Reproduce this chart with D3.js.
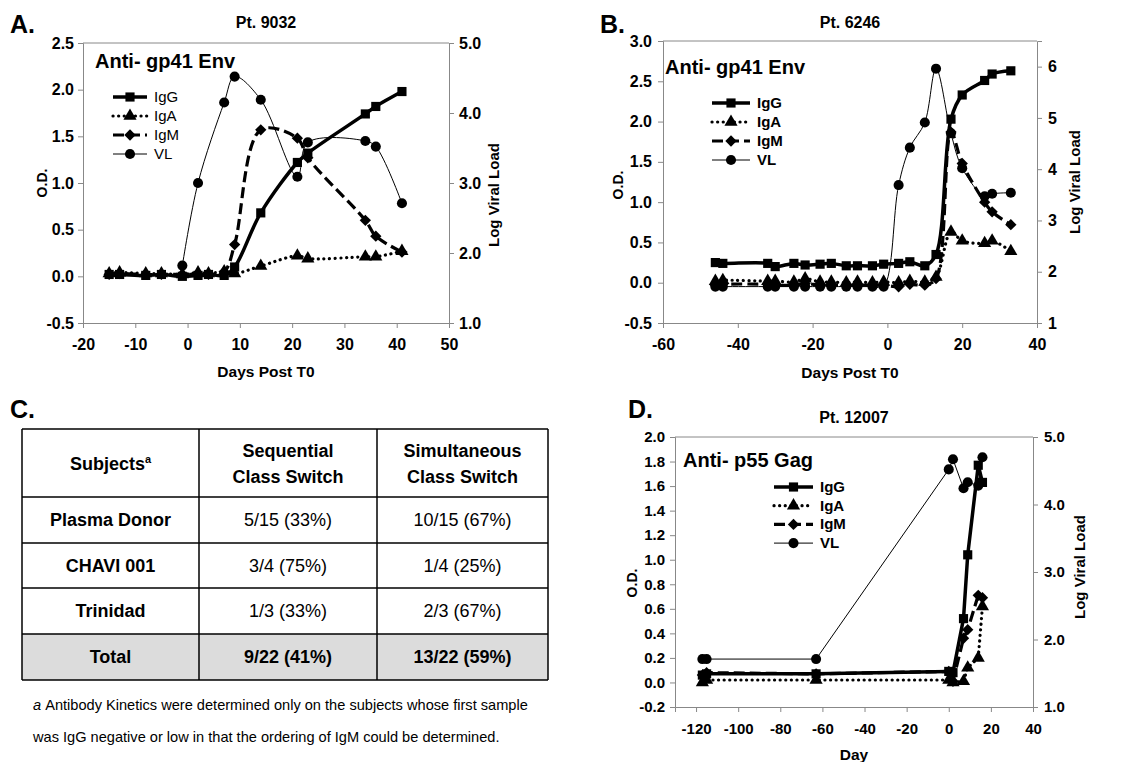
<!DOCTYPE html>
<html>
<head>
<meta charset="utf-8">
<script src="https://cdn.jsdelivr.net/npm/d3@7"></script>
<style>
  body { margin: 0; background: #fff; }
  svg { font-family: "Liberation Sans", Arial, sans-serif; }
</style>
</head>
<body>
<svg id="fig" width="1130" height="762"></svg>
<script>
// ---- data ----
// A. Pt. 9032, anti-gp41 Env
const aDays = [-15, -13, -8, -5, -1, 2, 4, 7, 9, 14, 21, 23, 34, 36, 41];
const aIgG  = [0.02, 0.02, 0.01, 0.02, 0.00, 0.01, 0.02, 0.01, 0.10, 0.68, 1.22, 1.32, 1.74, 1.82, 1.98];
const aIgA  = [0.03, 0.04, 0.03, 0.03, 0.02, 0.04, 0.03, 0.05, 0.03, 0.11, 0.22, 0.19, 0.21, 0.21, 0.27];
const aIgM  = [0.02, 0.03, 0.02, 0.02, 0.02, 0.02, 0.02, 0.05, 0.34, 1.57, 1.48, 1.27, 0.60, 0.43, 0.26];
const aVLDays = [-1, 2, 7, 9, 14, 21, 23, 34, 36, 41];
const aVL     = [1.82, 3.00, 4.15, 4.52, 4.19, 3.09, 3.58, 3.60, 3.52, 2.71];

// B. Pt. 6246, anti-gp41 Env
const bDays = [-46, -44, -32, -30, -25, -22, -18, -15, -11, -8, -4, -1, 3, 6, 10, 13, 17, 20, 26, 28, 33];
const bIgG  = [0.25, 0.24, 0.24, 0.20, 0.24, 0.22, 0.23, 0.24, 0.21, 0.21, 0.21, 0.23, 0.24, 0.26, 0.21, 0.35, 2.03, 2.33, 2.51, 2.59, 2.63];
const bIgA  = [0.02, 0.03, 0.02, 0.02, 0.01, 0.05, 0.01, 0.01, 0.00, 0.01, 0.00, 0.01, 0.00, 0.02, 0.01, 0.07, 0.63, 0.52, 0.49, 0.52, 0.39];
const bIgM  = [-0.03, -0.02, -0.02, -0.03, -0.03, -0.01, -0.03, -0.03, -0.03, -0.03, -0.03, -0.03, -0.05, -0.02, -0.03, 0.05, 1.87, 1.48, 1.00, 0.88, 0.72];
const bVLDays = [-46, -44, -32, -30, -25, -22, -18, -15, -11, -8, -4, -1, 3, 6, 10, 13, 17, 20, 26, 28, 33];
const bVL     = [1.71, 1.71, 1.71, 1.71, 1.71, 1.71, 1.71, 1.71, 1.71, 1.71, 1.71, 1.71, 3.69, 4.42, 4.91, 5.96, 4.70, 4.02, 3.47, 3.52, 3.54];

// D. Pt. 12007, anti-p55 Gag
const dDays = [-117, -115, -63, 0, 2, 7, 9, 14, 16];
const dIgG  = [0.06, 0.07, 0.07, 0.09, 0.08, 0.52, 1.04, 1.77, 1.63];
const dIgA  = [0.00, 0.02, 0.02, 0.02, 0.00, 0.01, 0.12, 0.20, 0.62];
const dIgM  = [0.06, 0.08, 0.07, 0.09, 0.01, 0.36, 0.43, 0.71, 0.69];
const dVLDays = [-117, -115, -63, 0, 2, 7, 9, 14, 16];
const dVL     = [1.71, 1.71, 1.71, 4.52, 4.67, 4.24, 4.33, 4.28, 4.70];

const seriesNames = ["IgG", "IgA", "IgM", "VL"];

// C. table
const tableHead = [["Subjects"], ["Sequential", "Class Switch"], ["Simultaneous", "Class Switch"]];
const tableSubjects = ["Plasma Donor", "CHAVI 001", "Trinidad", "Total"];
const tableSequential = ["5/15 (33%)", "3/4 (75%)", "1/3 (33%)", "9/22 (41%)"];
const tableSimultaneous = ["10/15 (67%)", "1/4 (25%)", "2/3 (67%)", "13/22 (59%)"];
const footnote = [
  "Antibody Kinetics were determined only on the subjects whose first sample",
  "was IgG negative or low in that the ordering of IgM could be determined."
];

// ---- drawing ----
const svg = d3.select("#fig");

const style = {
  IgG: { w: 3.5, dash: null, cap: "butt" },
  IgA: { w: 3.2, dash: "0.1 5.5", cap: "round" },
  IgM: { w: 3.2, dash: "11 5", cap: "butt" },
  VL:  { w: 1, dash: null, cap: "butt" }
};

function marker(name) {
  if (name === "IgG") return { d: d3.symbol(d3.symbolSquare, 84)(), rot: 0 };
  if (name === "IgA") return { d: d3.symbol(d3.symbolTriangle, 75)(), rot: 0 };
  if (name === "IgM") return { d: d3.symbol(d3.symbolSquare, 64)(), rot: 45 };
  return { d: d3.symbol(d3.symbolCircle, 80)(), rot: 0 };
}

// hyphen minus like the original, not the typographic one
const fmt = spec => v => d3.format(spec)(v).replace("\u2212", "-");

function drawPanel(p) {
  const g = svg.append("g");
  const x = d3.scaleLinear().domain(p.xDomain).range([p.left, p.right]);
  const y = d3.scaleLinear().domain(p.yDomain).range([p.bottom, p.top]);
  const yr = d3.scaleLinear().domain(p.rDomain).range([p.bottom, p.top]);

  g.append("line")
    .attr("x1", p.left).attr("x2", p.right)
    .attr("y1", p.top).attr("y2", p.top)
    .attr("stroke", "#888").attr("stroke-width", 1);

  const xAxis = g.append("g")
    .attr("transform", `translate(0,${p.bottom})`)
    .call(d3.axisBottom(x).tickValues(p.xTicks).tickSize(5).tickPadding(11).tickFormat(fmt("d")));
  const yAxis = g.append("g")
    .attr("transform", `translate(${p.left},0)`)
    .call(d3.axisLeft(y).tickValues(p.yTicks).tickSize(5).tickPadding(p.padL).tickFormat(fmt(".1f")));
  const rAxis = g.append("g")
    .attr("transform", `translate(${p.right},0)`)
    .call(d3.axisRight(yr).tickValues(p.rTicks).tickSize(5).tickPadding(p.padR).tickFormat(fmt(p.rFmt)));

  [xAxis, yAxis, rAxis].forEach(a => {
    a.select(".domain").attr("stroke", "#888");
    a.selectAll(".tick line").attr("stroke", "#888");
    a.selectAll(".tick text")
      .attr("fill", "#000")
      .style("font-size", p.tickSize + "px")
      .style("font-weight", "bold")
      .style("font-family", "'Liberation Sans', Arial, sans-serif");
  });

  const curve = p.smooth ? d3.curveCatmullRom.alpha(0.5) : d3.curveLinear;
  const series = [
    { name: "VL",  days: p.vlDays, vals: p.vl, sc: yr },
    { name: "IgG", days: p.days, vals: p.igg, sc: y },
    { name: "IgA", days: p.days, vals: p.iga, sc: y },
    { name: "IgM", days: p.days, vals: p.igm, sc: y }
  ];

  series.forEach(s => {
    const pts = s.days.map((d, i) => [d, s.vals[i]]);
    const st = style[s.name];
    g.append("path")
      .datum(pts)
      .attr("fill", "none")
      .attr("stroke", "#000")
      .attr("stroke-width", st.w)
      .attr("stroke-linecap", st.cap)
      .attr("stroke-dasharray", st.dash)
      .attr("d", d3.line().x(d => x(d[0])).y(d => s.sc(d[1])).curve(curve));
    const m = marker(s.name);
    g.selectAll(null)
      .data(pts)
      .enter()
      .append("path")
      .attr("d", m.d)
      .attr("fill", "#000")
      .attr("transform", d => `translate(${x(d[0])},${s.sc(d[1])}) rotate(${m.rot})`);
  });

  // legend
  seriesNames.forEach((name, i) => {
    const ly = p.legY + i * p.legStep;
    const st = style[name];
    g.append("line")
      .attr("x1", p.legX).attr("x2", p.legX + p.legW)
      .attr("y1", ly).attr("y2", ly)
      .attr("stroke", "#000")
      .attr("stroke-width", st.w)
      .attr("stroke-linecap", st.cap)
      .attr("stroke-dasharray", st.dash);
    const m = marker(name);
    g.append("path")
      .attr("d", m.d)
      .attr("transform", `translate(${p.legX + p.legW / 2},${ly}) rotate(${m.rot})`);
    g.append("text")
      .attr("x", p.legX + p.legW + 7).attr("y", ly + 5)
      .style("font-size", "15px")
      .style("font-weight", p.legBold ? "bold" : "normal")
      .text(name);
  });

  // texts
  g.append("text").attr("x", p.letterX).attr("y", p.letterY)
    .style("font-size", "25px").style("font-weight", "bold").text(p.letter);
  g.append("text").attr("x", (p.left + p.right) / 2).attr("y", p.titleY)
    .attr("text-anchor", "middle")
    .style("font-size", "16px").style("font-weight", "bold").text(p.title);
  g.append("text").attr("x", p.innerX).attr("y", p.innerY)
    .style("font-size", "20px").style("font-weight", "bold").text(p.inner);
  g.append("text").attr("x", (p.left + p.right) / 2).attr("y", p.xLabelY)
    .attr("text-anchor", "middle")
    .style("font-size", "15.5px").style("font-weight", "bold").text(p.xLabel);
  g.append("text")
    .attr("transform", `translate(${p.odX},${p.odY}) rotate(-90)`)
    .attr("text-anchor", "middle")
    .style("font-size", "14px").style("font-weight", "bold").text("O.D.");
  g.append("text")
    .attr("transform", `translate(${p.lvlX},${p.lvlY}) rotate(-90)`)
    .attr("text-anchor", "middle")
    .style("font-size", "15px").style("font-weight", "bold").text("Log Viral Load");
}

drawPanel({
  left: 83, right: 449, top: 43, bottom: 323,
  xDomain: [-20, 50], xTicks: d3.range(-20, 51, 10),
  yDomain: [-0.5, 2.5], yTicks: d3.range(-0.5, 2.51, 0.5),
  rDomain: [1, 5], rTicks: [1, 2, 3, 4, 5], rFmt: ".1f",
  padL: 4, padR: 5, tickSize: 16, smooth: true,
  days: aDays, igg: aIgG, iga: aIgA, igm: aIgM, vlDays: aVLDays, vl: aVL,
  legX: 113, legW: 34, legY: 97, legStep: 19, legBold: false,
  letter: "A.", letterX: 10, letterY: 33,
  title: "Pt. 9032", titleY: 28,
  inner: "Anti- gp41 Env", innerX: 95, innerY: 68,
  xLabel: "Days Post T0", xLabelY: 377,
  odX: 47, odY: 183, lvlX: 499, lvlY: 195
});

drawPanel({
  left: 663, right: 1037, top: 41, bottom: 323,
  xDomain: [-60, 40], xTicks: d3.range(-60, 41, 20),
  yDomain: [-0.5, 3.0], yTicks: d3.range(-0.5, 3.01, 0.5),
  rDomain: [1, 6.5], rTicks: [1, 2, 3, 4, 5, 6], rFmt: "d",
  padL: 6, padR: 6, tickSize: 16, smooth: true,
  days: bDays, igg: bIgG, iga: bIgA, igm: bIgM, vlDays: bVLDays, vl: bVL,
  legX: 712, legW: 38, legY: 103, legStep: 19, legBold: true,
  letter: "B.", letterX: 600, letterY: 33,
  title: "Pt. 6246", titleY: 28,
  inner: "Anti- gp41 Env", innerX: 665, innerY: 74,
  xLabel: "Days Post T0", xLabelY: 378,
  odX: 623, odY: 185, lvlX: 1080, lvlY: 182
});

drawPanel({
  left: 675, right: 1033, top: 437, bottom: 707,
  xDomain: [-130, 40], xTicks: d3.range(-120, 41, 20),
  yDomain: [-0.2, 2.0], yTicks: d3.range(-0.2, 2.01, 0.2),
  rDomain: [1, 5], rTicks: [1, 2, 3, 4, 5], rFmt: ".1f",
  padL: 5, padR: 6, tickSize: 15, smooth: false,
  days: dDays, igg: dIgG, iga: dIgA, igm: dIgM, vlDays: dVLDays, vl: dVL,
  legX: 774, legW: 39, legY: 487, legStep: 18.7, legBold: true,
  letter: "D.", letterX: 628, letterY: 418,
  title: "Pt. 12007", titleY: 423,
  inner: "Anti- p55 Gag", innerX: 683, innerY: 467,
  xLabel: "Day", xLabelY: 760,
  odX: 637, odY: 583, lvlX: 1085, lvlY: 567
});

// ---- C. table ----
const colX = [22, 199, 377, 548];
const rowY = [429, 497, 543, 588, 634, 680];
const tg = svg.append("g");

tg.append("text").attr("x", 10).attr("y", 418)
  .style("font-size", "25px").style("font-weight", "bold").text("C.");

tg.append("rect")
  .attr("x", colX[0]).attr("y", rowY[4])
  .attr("width", colX[3] - colX[0]).attr("height", rowY[5] - rowY[4])
  .attr("fill", "#dcdcdc");

rowY.forEach(ry => tg.append("line")
  .attr("x1", colX[0]).attr("x2", colX[3]).attr("y1", ry).attr("y2", ry)
  .attr("stroke", "#000").attr("stroke-width", 1.5));
colX.forEach(cx => tg.append("line")
  .attr("x1", cx).attr("x2", cx).attr("y1", rowY[0]).attr("y2", rowY[5])
  .attr("stroke", "#000").attr("stroke-width", 1.5));

const colMid = i => (colX[i] + colX[i + 1]) / 2;

tableHead.forEach((lines, i) => {
  const t = tg.append("text")
    .attr("text-anchor", "middle")
    .style("font-size", "18px").style("font-weight", "bold");
  if (lines.length === 1) {
    t.attr("x", colMid(i)).attr("y", 470);
    t.append("tspan").text(lines[0]);
    t.append("tspan").attr("dy", -7).style("font-size", "11px").text("a");
  } else {
    lines.forEach((ln, k) => t.append("tspan")
      .attr("x", colMid(i)).attr("y", 457 + k * 26).text(ln));
  }
});

tableSubjects.forEach((s, r) => {
  const by = (rowY[r + 1] + rowY[r + 2]) / 2 + 6;
  const isTotal = r === tableSubjects.length - 1;
  [s, tableSequential[r], tableSimultaneous[r]].forEach((v, c) => {
    tg.append("text")
      .attr("x", colMid(c)).attr("y", by)
      .attr("text-anchor", "middle")
      .style("font-size", "18px")
      .style("font-weight", (c === 0 || isTotal) ? "bold" : "normal")
      .text(v);
  });
});

footnote.forEach((ln, i) => {
  const t = tg.append("text").attr("x", 33).attr("y", 710 + i * 32)
    .style("font-size", "14.6px");
  if (i === 0) t.append("tspan").style("font-style", "italic").text("a ");
  t.append("tspan").text(ln);
});
</script>
</body>
</html>
